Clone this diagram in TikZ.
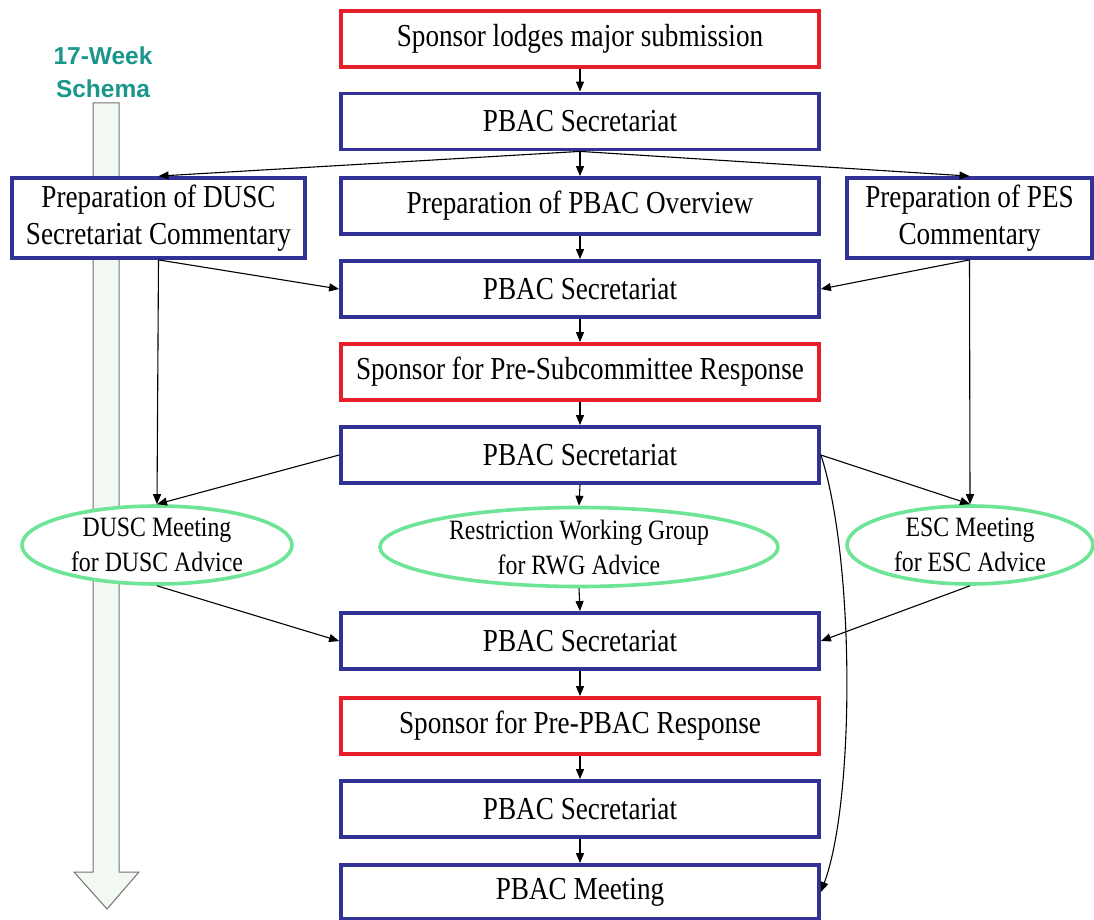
\documentclass[tikz,border=0pt]{standalone}
\usepackage{fontspec}
\setmainfont{Liberation Serif}[FakeStretch=0.85]
\newfontfamily\titlefont{Liberation Sans}
\usetikzlibrary{arrows.meta,shapes.geometric}
\definecolor{boxblue}{RGB}{50,50,150}
\definecolor{boxred}{RGB}{232,30,40}
\definecolor{ellgreen}{RGB}{110,228,150}
\definecolor{titleteal}{RGB}{26,150,140}
\definecolor{shaftfill}{RGB}{242,248,242}
\tikzset{
  box/.style={draw=boxblue, line width=3.8pt, fill=white, minimum width=478pt, minimum height=56pt,
    inner sep=0pt, align=center, font=\fontsize{32}{37}\selectfont},
  rbox/.style={box, draw=boxred},
  ell/.style={ellipse, draw=ellgreen, line width=3.6pt, fill=white, inner sep=0pt, align=center,
    font=\fontsize{28}{35}\selectfont},
  conn/.style={draw=black, line width=1.1pt, -{Triangle[length=10pt,width=8pt]}}
}
\begin{document}
\begin{tikzpicture}[x=1pt,y=-1pt]
\useasboundingbox (0,0) rectangle (1094,920);
% big timeline arrow
\draw[fill=shaftfill, draw=black!55, line width=1pt]
  (93,103) -- (119,103) -- (119,872) -- (139,872) -- (107,909) -- (74,872) -- (93,872) -- cycle;
\node[font=\titlefont\bfseries\fontsize{24.5}{33}\selectfont, text=titleteal, align=center] (title) at (103,72) {17-Week\\Schema};
% nodes
\node[rbox] (b1) at (580,39) {Sponsor lodges major submission};
\node[box] (b2) at (580,121.5) {PBAC Secretariat};
\node[box] (b3) at (580,206) {Preparation of PBAC Overview};
\node[box, minimum width=293pt, minimum height=80pt] (dusc) at (158.5,218) {Preparation of DUSC\\Secretariat Commentary};
\node[box, minimum width=245pt, minimum height=80pt] (pes) at (969.5,218) {Preparation of PES\\Commentary};
\node[box] (b4) at (580,289) {PBAC Secretariat};
\node[rbox] (b5) at (580,372) {Sponsor for Pre-Subcommittee Response};
\node[box] (b6) at (580,455) {PBAC Secretariat};
\node[ell, minimum width=270pt, minimum height=78pt] (e1) at (157,545) {DUSC Meeting\\for DUSC Advice};
\node[ell, minimum width=398pt, minimum height=79pt] (e2) at (579,547) {Restriction Working Group\\for RWG Advice};
\node[ell, minimum width=246pt, minimum height=78pt] (e3) at (970,545) {ESC Meeting\\for ESC Advice};
\node[box] (b7) at (580,641) {PBAC Secretariat};
\node[rbox] (b8) at (580,726) {Sponsor for Pre-PBAC Response};
\node[box] (b9) at (580,809) {PBAC Secretariat};
\node[box, minimum height=54pt] (b10) at (580,892) {PBAC Meeting};
% connectors
\draw[conn] (b1.south) -- (b2.north);
\draw[conn] (b2.south) -- (b3.north);
\draw[conn] (b2.south) -- (dusc.north);
\draw[conn] (b2.south) -- (pes.north);
\draw[conn] (b3.south) -- (b4.north);
\draw[conn] (dusc.south) -- (b4.west);
\draw[conn] (pes.south) -- (b4.east);
\draw[conn] (dusc.south) -- (e1.north);
\draw[conn] (pes.south) -- (e3.north);
\draw[conn] (b4.south) -- (b5.north);
\draw[conn] (b5.south) -- (b6.north);
\draw[conn] (b6.west) -- (e1.north);
\draw[conn] (b6.east) -- (e3.north);
\draw[conn] (b6.south) -- (e2.north);
\draw[conn] (b6.east) .. controls (855,560) and (855,800) .. (b10.east);
\draw[conn] (e1.south) -- (b7.west);
\draw[conn] (e3.south) -- (b7.east);
\draw[conn] (e2.south) -- (b7.north);
\draw[conn] (b7.south) -- (b8.north);
\draw[conn] (b8.south) -- (b9.north);
\draw[conn] (b9.south) -- (b10.north);
\end{tikzpicture}
\end{document}
